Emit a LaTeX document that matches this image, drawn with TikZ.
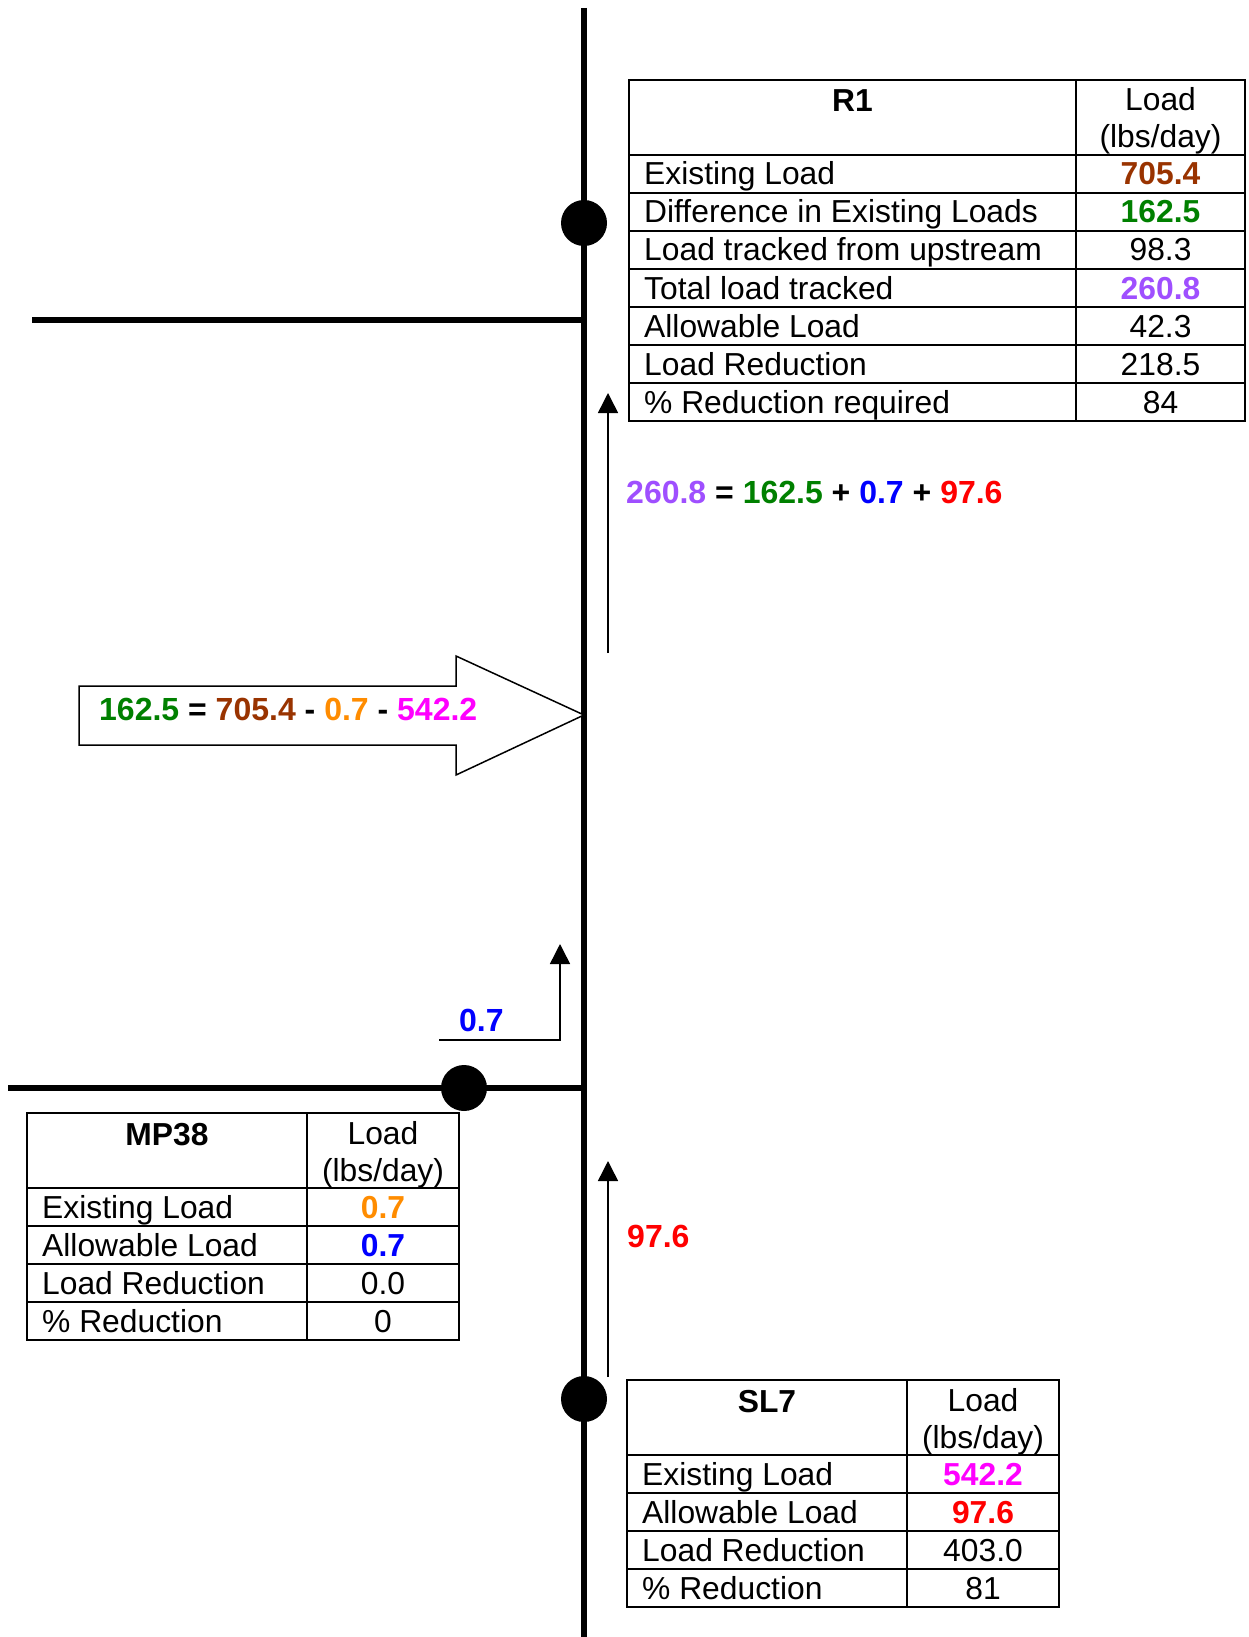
\documentclass[tikz,border=0pt]{standalone}
\usepackage{fontspec}
\setmainfont{Liberation Sans}
\usetikzlibrary{arrows.meta}
\definecolor{LoadBrown}{HTML}{993300}
\definecolor{LoadGreen}{HTML}{008000}
\definecolor{LoadPurple}{HTML}{9F4FFF}
\definecolor{LoadOrange}{HTML}{FF8C00}
\definecolor{LoadMagenta}{HTML}{FF00FF}
\definecolor{LoadBlue}{HTML}{0000FF}
\definecolor{LoadRed}{HTML}{FF0000}
\newcommand\hl[2]{\textcolor{#1}{\textbf{#2}}}

\begin{document}
\begin{tikzpicture}[x=1pt, y=-1pt, >={Triangle[width=20pt,length=20pt]},
		font=\fontsize{31.8}{38}\selectfont,
		gridline/.style={line width=1.8pt},
		stream/.style={line width=6pt},
		junction/.style={circle, fill=black, minimum size=46pt, inner sep=0pt},
		flow/.style={->, line width=1.5pt},
		cell/.style={inner sep=0pt, anchor=base},
		calc/.style={inner sep=0pt, anchor=base west, font=\fontsize{32}{38}\selectfont\bfseries}]
			\useasboundingbox (0,0) rectangle (1248,1637);

			% main stream and tributaries
			\coordinate (src) at (584,8);
			\coordinate (mouth) at (584,1637);
			\coordinate (trib1) at (32,320);
			\coordinate (trib2) at (8,1088);
			\draw[stream] (src) -- (mouth);
			\draw[stream] (trib1) -- (trib1 -| src);
			\draw[stream] (trib2) -- (trib2 -| src);

			% stations
			\node[junction] (r1pt) at (584,223) {};
			\node[junction] (mp38pt) at (464,1088) {};
			\node[junction] (sl7pt) at (584,1399) {};

			% tables
			\newcommand\loadtable[7]{%
				\draw[gridline] (#2,#3) rectangle (#4,#3+75);
				\draw[gridline] (#4,#3) rectangle (#5,#3+75);
				\node[cell, font=\fontsize{31.8}{38}\selectfont\bfseries] (#1) at ({(#2+#4)/2},#3+32) {#6};
				\node[cell] (#1unit) at ({(#4+#5)/2},#3+31) {Load};
				\node[cell] (#1unitb) at ({(#4+#5)/2},#3+68) {(lbs/day)};
				\foreach \lbl/\val [count=\i] in {#7}{
					\pgfmathsetmacro\rtop{#3+75+38*(\i-1)}
					\draw[gridline] (#2,\rtop) rectangle (#4,\rtop+38);
					\draw[gridline] (#4,\rtop) rectangle (#5,\rtop+38);
					\node[cell, anchor=base west] (#1row\i) at (#2+15,\rtop+30) {\lbl};
					\node[cell] (#1val\i) at ({(#4+#5)/2},\rtop+30) {\val};
				}
			}

			\loadtable{r1}{629}{80}{1076}{1245}{R1}{Existing Load/\hl{LoadBrown}{705.4}, Difference in Existing Loads/\hl{LoadGreen}{162.5}, Load tracked from upstream/98.3, Total load tracked/\hl{LoadPurple}{260.8}, Allowable Load/42.3, Load Reduction/218.5, \% Reduction required/84}
			\loadtable{mp38}{27}{1113}{307}{459}{MP38}{Existing Load/\hl{LoadOrange}{0.7}, Allowable Load/\hl{LoadBlue}{0.7}, Load Reduction/0.0, \% Reduction/0}
			\loadtable{sl7}{627}{1380}{907}{1059}{SL7}{Existing Load/\hl{LoadMagenta}{542.2}, Allowable Load/\hl{LoadRed}{97.6}, Load Reduction/403.0, \% Reduction/81}

			% loads carried downstream
			\coordinate (r1in) at (608,653);
			\coordinate (r1head) at (608,393);
			\draw[flow] (r1in) -- (r1head);
			\node[calc] (totaleq) at (626,503) {\hl{LoadPurple}{260.8} = \hl{LoadGreen}{162.5} + \hl{LoadBlue}{0.7} + \hl{LoadRed}{97.6}};

			\coordinate (mp38out) at (439,1040);
			\coordinate (mp38head) at (560,944);
			\draw[flow] (mp38out) -| (mp38head);
			\node[calc, text=LoadBlue] (mp38load) at (459,1031) {0.7};

			\coordinate (sl7out) at (608,1377);
			\coordinate (sl7head) at (608,1161);
			\draw[flow] (sl7out) -- (sl7head);
			\node[calc, text=LoadRed] (sl7load) at (627,1247) {97.6};

			% difference in existing loads
			\draw[line width=1.5pt, fill=white] (79,686) -- (456,686) -- (456,656) -- (r1pt |- 0,715) -- (456,775) -- (456,745) -- (79,745) -- cycle;
			\node[calc] (diffeq) at (99,720) {\hl{LoadGreen}{162.5} = \hl{LoadBrown}{705.4} - \hl{LoadOrange}{0.7} - \hl{LoadMagenta}{542.2}};

		\end{tikzpicture}
\end{document}
